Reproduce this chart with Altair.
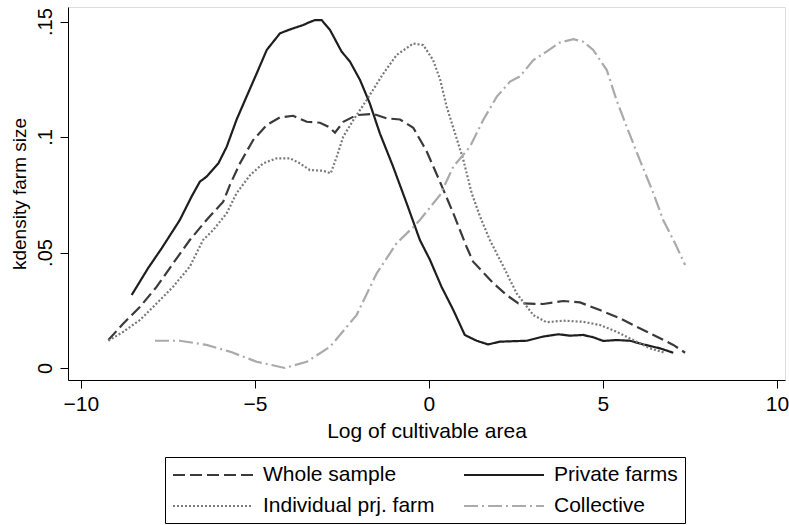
import altair as alt
import pandas as pd

# Kernel density estimates of log cultivable area, by farm type
whole_x = [-9.21, -8.78, -8.30, -7.82, -7.35, -6.87, -6.39, -5.91, -5.72, -5.43, -5.05, -4.66,
           -4.28, -3.90, -3.51, -3.13, -2.89, -2.70, -2.46, -2.08, -1.60, -1.22, -0.83, -0.45,
           -0.07, 0.32, 0.70, 1.08, 1.27, 1.85, 2.23, 2.57, 3.28, 3.86, 4.34, 4.91, 5.49, 5.87,
           6.45, 7.02, 7.36]
whole_y = [0.0121, 0.0193, 0.0265, 0.0352, 0.0453, 0.0554, 0.0641, 0.0720, 0.0792, 0.0886, 0.0987,
           0.1052, 0.1085, 0.1092, 0.1066, 0.1062, 0.1045, 0.1019, 0.1066, 0.1095, 0.1100, 0.1081,
           0.1076, 0.1040, 0.0940, 0.0805, 0.0670, 0.0525, 0.0460, 0.0367, 0.0316, 0.0280, 0.0277,
           0.0290, 0.0284, 0.0251, 0.0215, 0.0186, 0.0143, 0.0100, 0.0066]

private_x = [-8.54, -8.07, -7.68, -7.16, -6.82, -6.58, -6.39, -6.05, -5.81, -5.53, -5.24, -4.95,
             -4.66, -4.28, -3.99, -3.61, -3.47, -3.28, -3.08, -2.84, -2.51, -2.27, -1.98, -1.70,
             -1.41, -1.03, -0.64, -0.26, 0.03, 0.36, 0.70, 1.03, 1.37, 1.70, 2.04, 2.81, 3.28,
             3.72, 4.05, 4.43, 4.72, 5.01, 5.39, 5.78, 6.16, 6.64, 7.02]
private_y = [0.0316, 0.0432, 0.0518, 0.0640, 0.0742, 0.0807, 0.0828, 0.0886, 0.0958, 0.1074,
             0.1175, 0.1275, 0.1377, 0.1449, 0.1466, 0.1485, 0.1495, 0.1506, 0.1506, 0.1463,
             0.1370, 0.1327, 0.1247, 0.1146, 0.1016, 0.0872, 0.0713, 0.0554, 0.0468, 0.0352,
             0.0251, 0.0143, 0.0118, 0.0102, 0.0114, 0.0118, 0.0136, 0.0146, 0.0140, 0.0143,
             0.0133, 0.0117, 0.0121, 0.0118, 0.0102, 0.0085, 0.0066]

indiv_x = [-9.21, -8.78, -8.30, -7.82, -7.35, -6.87, -6.49, -6.20, -5.81, -5.53, -5.14, -4.76,
           -4.38, -3.99, -3.71, -3.42, -3.04, -2.82, -2.65, -2.46, -2.17, -1.79, -1.31, -0.93,
           -0.45, -0.16, 0.12, 0.32, 0.51, 0.75, 0.99, 1.23, 1.47, 1.75, 2.14, 2.52, 3.00, 3.38,
           3.86, 4.43, 4.91, 5.39, 5.87, 6.35, 6.78]
indiv_y = [0.0118, 0.0157, 0.0208, 0.0280, 0.0352, 0.0439, 0.0554, 0.0597, 0.0670, 0.0756,
           0.0835, 0.0886, 0.0908, 0.0908, 0.0886, 0.0857, 0.0854, 0.0843, 0.0915, 0.1002,
           0.1074, 0.1160, 0.1275, 0.1355, 0.1405, 0.1398, 0.1333, 0.1250, 0.1131, 0.1016,
           0.0900, 0.0756, 0.0655, 0.0554, 0.0439, 0.0323, 0.0229, 0.0198, 0.0205, 0.0200,
           0.0186, 0.0157, 0.0121, 0.0085, 0.0066]

coll_x = [-7.87, -7.16, -6.39, -5.72, -4.95, -4.14, -3.51, -2.84, -2.08, -1.50, -0.93, -0.45,
          -0.26, 0.32, 0.70, 1.18, 1.56, 1.95, 2.33, 2.61, 3.00, 3.38, 3.76, 4.15, 4.43, 4.72,
          5.11, 5.39, 5.68, 6.06, 6.45, 6.73, 7.07, 7.36]
coll_y = [0.0118, 0.0118, 0.0100, 0.0071, 0.0027, 0.0000, 0.0027, 0.0092, 0.0229, 0.0410,
          0.0540, 0.0610, 0.0641, 0.0749, 0.0872, 0.0958, 0.1074, 0.1175, 0.1240, 0.1262,
          0.1333, 0.1370, 0.1409, 0.1424, 0.1413, 0.1377, 0.1290, 0.1160, 0.1045, 0.0900,
          0.0756, 0.0641, 0.0540, 0.0446]

series = ["Whole sample", "Private farms", "Individual prj. farm", "Collective"]

frames = []
for name, xs, ys in [
    ("Whole sample", whole_x, whole_y),
    ("Private farms", private_x, private_y),
    ("Individual prj. farm", indiv_x, indiv_y),
    ("Collective", coll_x, coll_y),
]:
    frames.append(pd.DataFrame({"x": xs, "y": ys, "series": name, "order": range(len(xs))}))
df = pd.concat(frames, ignore_index=True)

FONT = "Liberation Sans"

# long horizontal stroke used as the legend key
legend = alt.Legend(
    title=None,
    orient="none",
    direction="horizontal",
    legendX=97,
    legendY=450,
    columns=2,
    symbolType="M-4,0H4",
    symbolSize=400,
    symbolStrokeWidth=2,
    symbolOffset=30,
    labelFont=FONT,
    labelFontSize=21,
    labelColor="#000000",
    labelOffset=39,
    labelLimit=400,
    columnPadding=25,
    rowPadding=10,
    padding=7,
    strokeColor="#000000",
    fillColor="#ffffff",
)

chart = alt.Chart(df).mark_line(strokeWidth=2.2).encode(
    x=alt.X(
        "x:Q",
        scale=alt.Scale(domain=[-10.37, 10.23], nice=False, zero=False),
        axis=alt.Axis(
            title="Log of cultivable area",
            values=[-10, -5, 0, 5, 10],
            grid=False,
            domainColor="#000000",
            tickColor="#000000",
            tickSize=8,
            labelFont=FONT,
            labelFontSize=21,
            labelColor="#000000",
            labelPadding=5,
            titleFont=FONT,
            titleFontSize=21,
            titleFontWeight="normal",
            titleColor="#000000",
            titlePadding=6,
        ),
    ),
    y=alt.Y(
        "y:Q",
        scale=alt.Scale(domain=[-0.0052, 0.1563], nice=False, zero=False),
        axis=alt.Axis(
            title="kdensity farm size",
            values=[0, 0.05, 0.1, 0.15],
            labelExpr="datum.value == 0 ? '0' : replace(format(datum.value, '.2~f'), /^0/, '')",
            grid=False,
            domainColor="#000000",
            tickColor="#000000",
            tickSize=8,
            labelAngle=270,
            labelAlign="center",
            labelBaseline="bottom",
            labelFont=FONT,
            labelFontSize=20,
            labelColor="#000000",
            labelPadding=5,
            titleFont=FONT,
            titleFontSize=19,
            titleFontWeight="normal",
            titleColor="#000000",
            titlePadding=6,
        ),
    ),
    color=alt.Color(
        "series:N",
        scale=alt.Scale(domain=series, range=["#3a3a3a", "#1e1e1e", "#7a7a7a", "#aaaaaa"]),
        legend=legend,
    ),
    strokeDash=alt.StrokeDash(
        "series:N",
        scale=alt.Scale(domain=series, range=[[12, 5], [1, 0], [2, 2], [14, 4, 2, 4]]),
        legend=legend,
    ),
    detail="series:N",
    order="order:Q",
).properties(
    width=717,
    height=373,
    autosize=alt.AutoSizeParams(type="none"),
    padding={"left": 68, "top": 7, "right": 4, "bottom": 145},
).configure_view(stroke=None).configure(background="#ffffff")

chart.save("out.html", embed_options={"renderer": "svg", "actions": False})
